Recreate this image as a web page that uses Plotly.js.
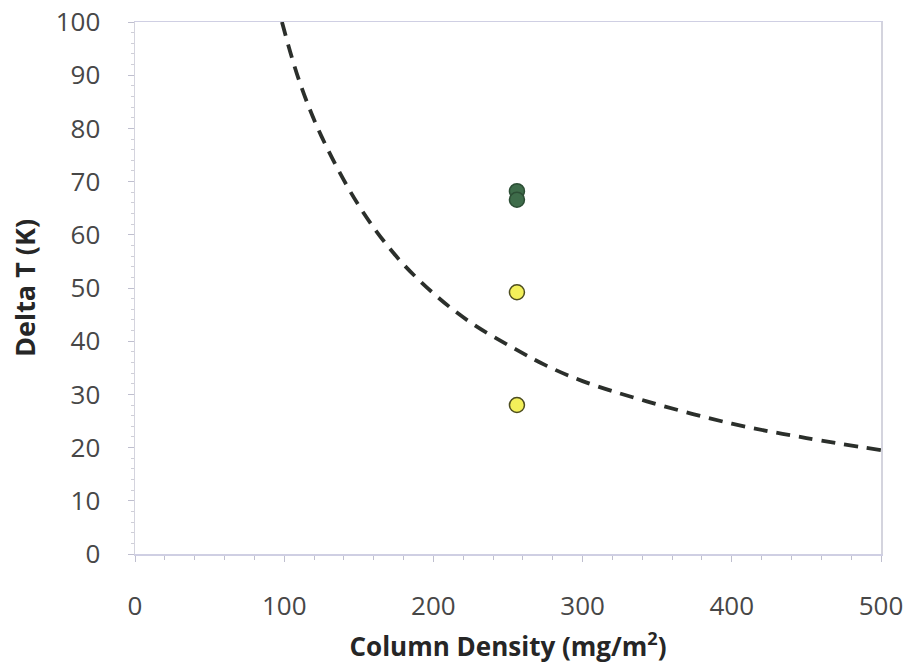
<!DOCTYPE html>
<html>
<head>
<meta charset="utf-8">
<script src="https://cdn.plot.ly/plotly-3.0.1.min.js"></script>
<style>html,body{margin:0;padding:0;background:#fff;}#chart{width:906px;height:670px;}</style>
</head>
<body>
<div id="chart"></div>
<script>
// Dashed trend curve
var curveX = [98.5, 110, 125, 150, 175, 200, 225, 255, 275, 300, 343, 400, 450, 500];
var curveY = [100, 89, 78.5, 65.5, 56, 49, 43.5, 38.5, 35.5, 32.5, 28.7, 24.5, 21.8, 19.5];
// Green points
var greenX = [256, 256];
var greenY = [68.2, 66.6];
// Yellow points
var yellowX = [256, 256];
var yellowY = [49.2, 28.0];
// Axis ticks
var xTicks = [0, 100, 200, 300, 400, 500];
var yTicks = [0, 10, 20, 30, 40, 50, 60, 70, 80, 90, 100];

var traces = [
  {x: curveX, y: curveY, mode: 'lines', type: 'scatter',
   line: {color: '#2b2f2b', width: 3.8, dash: '14px,9px', shape: 'spline'}, hoverinfo: 'skip'},
  {x: greenX, y: greenY, mode: 'markers', type: 'scatter',
   marker: {size: 15, color: '#3e6c4a', line: {color: '#2c4e35', width: 1.5}}},
  {x: yellowX, y: yellowY, mode: 'markers', type: 'scatter',
   marker: {size: 15, color: '#f3f05a', line: {color: '#4d4d1f', width: 1.5}}}
];

var tickFont = {family: 'Open Sans, sans-serif', size: 26, color: '#474747'};
var layout = {
  width: 906, height: 670,
  margin: {l: 135, r: 25, t: 22, b: 116},
  paper_bgcolor: '#ffffff', plot_bgcolor: '#ffffff',
  showlegend: false,
  xaxis: {
    range: [0, 500], tickvals: xTicks, ticktext: xTicks.map(String),
    showgrid: false, zeroline: false,
    showline: true, linecolor: '#cfcfe3', linewidth: 1.5, mirror: true,
    ticks: 'outside', ticklen: 6, tickcolor: '#bfbfcf', tickwidth: 1,
    minor: {dtick: 20, ticks: 'outside', ticklen: 4, tickcolor: '#bfbfcf', showgrid: false},
    tickfont: tickFont, ticklabelstandoff: 22,
    title: {text: '<b>Column Density (mg/m<sup>2</sup>)</b>', standoff: 16,
            font: {family: 'Open Sans, sans-serif', size: 26, color: '#262626'}}
  },
  yaxis: {
    range: [0, 100], tickvals: yTicks, ticktext: yTicks.map(String),
    showgrid: false, zeroline: false,
    showline: true, linecolor: '#d4d4de', linewidth: 1.5, mirror: true,
    ticks: 'outside', ticklen: 6, tickcolor: '#bfbfcf', tickwidth: 1,
    minor: {dtick: 2, ticks: 'outside', ticklen: 3, tickcolor: '#cfcfd8', showgrid: false},
    tickfont: tickFont, ticklabelstandoff: 22,
    title: {text: '<b>Delta T (K)</b>', standoff: 12,
            font: {family: 'Open Sans, sans-serif', size: 27, color: '#262626'}}
  }
};

Plotly.newPlot('chart', traces, layout, {displayModeBar: false, staticPlot: true});
</script>
</body>
</html>
